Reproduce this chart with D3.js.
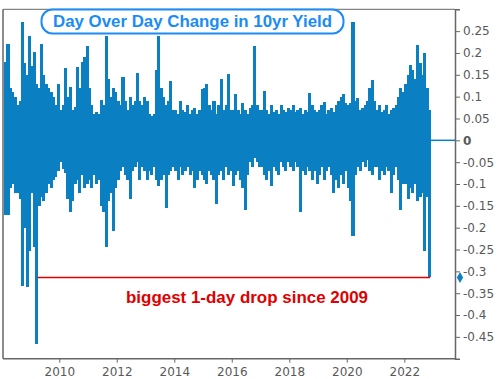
<!DOCTYPE html>
<html>
<head>
<meta charset="utf-8">
<script src="https://cdn.jsdelivr.net/npm/d3@7"></script>
<style>
  html, body { margin: 0; padding: 0; background: #fff; }
  svg { display: block; }
</style>
</head>
<body>
<svg id="chart" width="501" height="379"></svg>
<script>
(function() {

  // monthly extremes of the day-over-day change, Jan 2008 .. Nov 2022
  var startMonth = new Date(2008, 0, 1);

  var monthlyHigh = [
    0.10, 0.18, 0.22, 0.12, 0.11, 0.10, 0.08, 0.09, 0.27, 0.177, 0.15, 0.24,     // 2008
    0.17, 0.203, 0.13, 0.12, 0.22, 0.15, 0.13, 0.12, 0.11, 0.10, 0.08, 0.13,     // 2009
    0.07, 0.08, 0.165, 0.10, 0.123, 0.07, 0.077, 0.169, 0.12, 0.18, 0.19, 0.216, // 2010
    0.12, 0.08, 0.06, 0.065, 0.06, 0.093, 0.08, 0.24, 0.14, 0.10, 0.12, 0.11,    // 2011
    0.09, 0.08, 0.146, 0.09, 0.07, 0.10, 0.08, 0.09, 0.154, 0.09, 0.08, 0.10,    // 2012
    0.09, 0.06, 0.055, 0.06, 0.16, 0.238, 0.12, 0.10, 0.08, 0.09, 0.135, 0.07,   // 2013
    0.07, 0.06, 0.09, 0.07, 0.065, 0.08, 0.06, 0.07, 0.075, 0.06, 0.07, 0.118,   // 2014
    0.12, 0.13, 0.08, 0.07, 0.09, 0.06, 0.08, 0.14, 0.07, 0.08, 0.152, 0.07,     // 2015
    0.07, 0.106, 0.07, 0.06, 0.085, 0.07, 0.06, 0.075, 0.08, 0.215, 0.08, 0.07,  // 2016
    0.07, 0.113, 0.07, 0.06, 0.08, 0.065, 0.07, 0.06, 0.08, 0.07, 0.065, 0.075,  // 2017
    0.07, 0.08, 0.065, 0.07, 0.075, 0.06, 0.07, 0.065, 0.109, 0.08, 0.07, 0.065, // 2018
    0.07, 0.08, 0.087, 0.06, 0.07, 0.075, 0.065, 0.08, 0.09, 0.10, 0.107, 0.085, // 2019
    0.08, 0.085, 0.272, 0.09, 0.098, 0.07, 0.075, 0.08, 0.09, 0.12, 0.139, 0.09, // 2020
    0.07, 0.08, 0.065, 0.07, 0.08, 0.06, 0.07, 0.075, 0.08, 0.10, 0.12, 0.11,    // 2021
    0.13, 0.15, 0.173, 0.16, 0.14, 0.218, 0.177, 0.15, 0.20, 0.12, 0.07          // 2022
  ];

  var monthlyLow = [
    -0.15, -0.17, -0.17, -0.11, -0.10, -0.12, -0.12, -0.135, -0.333, -0.20, -0.335, -0.253, // 2008
    -0.12, -0.245, -0.466, -0.15, -0.13, -0.14, -0.12, -0.10, -0.11, -0.09, -0.085, -0.07,  // 2009
    -0.05, -0.065, -0.074, -0.135, -0.163, -0.14, -0.10, -0.09, -0.12, -0.08, -0.11, -0.10, // 2010
    -0.09, -0.11, -0.08, -0.10, -0.09, -0.15, -0.165, -0.245, -0.14, -0.12, -0.208, -0.11,  // 2011
    -0.09, -0.07, -0.06, -0.08, -0.09, -0.134, -0.07, -0.06, -0.05, -0.09, -0.06, -0.07,    // 2012
    -0.09, -0.07, -0.08, -0.06, -0.09, -0.105, -0.09, -0.08, -0.156, -0.08, -0.07, -0.06,   // 2013
    -0.07, -0.09, -0.06, -0.08, -0.07, -0.06, -0.08, -0.07, -0.11, -0.09, -0.07, -0.08,     // 2014
    -0.09, -0.10, -0.07, -0.08, -0.09, -0.145, -0.08, -0.07, -0.09, -0.06, -0.08, -0.07,    // 2015
    -0.105, -0.08, -0.07, -0.09, -0.11, -0.16, -0.08, -0.05, -0.06, -0.04, -0.05, -0.06,    // 2016
    -0.06, -0.08, -0.09, -0.07, -0.105, -0.06, -0.07, -0.08, -0.05, -0.06, -0.07, -0.05,    // 2017
    -0.06, -0.07, -0.05, -0.06, -0.165, -0.07, -0.08, -0.06, -0.07, -0.09, -0.07, -0.10,    // 2018
    -0.08, -0.06, -0.09, -0.07, -0.06, -0.08, -0.12, -0.09, -0.11, -0.08, -0.10, -0.07,     // 2019
    -0.11, -0.14, -0.219, -0.08, -0.06, -0.07, -0.05, -0.06, -0.045, -0.07, -0.08, -0.06,   // 2020
    -0.06, -0.09, -0.07, -0.08, -0.06, -0.07, -0.12, -0.08, -0.06, -0.09, -0.16, -0.10,     // 2021
    -0.10, -0.135, -0.11, -0.12, -0.10, -0.14, -0.13, -0.12, -0.254, -0.13, -0.314          // 2022
  ];

  var yTicks = [0.25, 0.2, 0.15, 0.1, 0.05, 0, -0.05, -0.1, -0.15, -0.2, -0.25, -0.3, -0.35, -0.4, -0.45];
  var xTickYears = [2010, 2012, 2014, 2016, 2018, 2020, 2022];

  var titleText = 'Day Over Day Change in 10yr Yield';
  var noteText = 'biggest 1-day drop since 2009';
  var lastValue = 0;          // value of the last-value line on the right
  var markerValue = -0.314;   // value of the diamond on the axis
  var noteStart = new Date(2009, 3, 1);

  var colors = ['#0a7fc1', '#666666', '#595959', '#1b8cf5', '#e00000'];

  var svg = d3.select('#chart');

  var left = 3, right = 455, top = 9.3, bottom = 358.7;

  var x = d3.scaleTime()
    .domain([new Date(2010, 0, 1), new Date(2022, 0, 1)])
    .range([59.3, 404.3]);

  var y = d3.scaleLinear()
    .domain([-0.5, 0.3])
    .range([bottom, top]);

  var months = monthlyHigh.map(function(h, i) {
    return {
      date: d3.timeMonth.offset(startMonth, i),
      next: d3.timeMonth.offset(startMonth, i + 1),
      high: h,
      low: monthlyLow[i]
    };
  });
  var lastDate = new Date(2022, 10, 12);

  svg.append('clipPath')
    .attr('id', 'plotClip')
    .append('rect')
    .attr('x', left + 1)
    .attr('y', top)
    .attr('width', right - left - 1)
    .attr('height', bottom - top);

  // bars
  svg.append('g')
    .attr('clip-path', 'url(#plotClip)')
    .attr('shape-rendering', 'crispEdges')
    .selectAll('rect')
    .data(months)
    .enter().append('rect')
    .attr('x', function(d) { return x(d.date); })
    .attr('width', function(d) { return x(d.next) - x(d.date) + 0.6; })
    .attr('y', function(d) { return y(d.high); })
    .attr('height', function(d) { return y(d.low) - y(d.high); })
    .attr('fill', colors[0]);

  // last value line
  svg.append('line')
    .attr('x1', x(lastDate))
    .attr('x2', right)
    .attr('y1', y(lastValue))
    .attr('y2', y(lastValue))
    .attr('stroke', colors[0])
    .attr('stroke-width', 1.5);

  // frame
  svg.append('line')
    .attr('x1', left).attr('x2', left)
    .attr('y1', top).attr('y2', bottom)
    .attr('stroke', colors[1]).attr('stroke-width', 1.5);
  svg.append('line')
    .attr('x1', left).attr('x2', right)
    .attr('y1', top).attr('y2', top)
    .attr('stroke', colors[1]).attr('stroke-width', 1);

  // y axis on the right
  var yAxis = svg.append('g')
    .attr('transform', 'translate(' + right + ',0)')
    .call(d3.axisRight(y)
      .tickValues(yTicks)
      .tickSize(5)
      .tickPadding(3)
      .tickFormat(function(d) { return d === 0 ? '0' : String(+d.toFixed(2)); }));
  yAxis.select('.domain').attr('stroke', colors[1]).attr('stroke-width', 1.5);
  yAxis.selectAll('.tick line').attr('stroke', colors[1]);
  yAxis.selectAll('.tick text')
    .attr('fill', colors[2])
    .style('font-family', 'DejaVu Sans, Verdana, sans-serif')
    .style('font-size', '12px')
    .style('font-weight', function(d) { return d === 0 ? 'bold' : 'normal'; });

  // x axis
  var xAxis = svg.append('g')
    .attr('transform', 'translate(0,' + bottom + ')')
    .call(d3.axisBottom(x)
      .tickValues(xTickYears.map(function(yr) { return new Date(yr, 0, 1); }))
      .tickSize(4)
      .tickPadding(5)
      .tickFormat(d3.timeFormat('%Y')));
  xAxis.select('.domain')
    .attr('d', 'M' + left + ',0H' + right)
    .attr('stroke', colors[1]).attr('stroke-width', 1.5);
  xAxis.selectAll('.tick line').attr('stroke', colors[1]);
  xAxis.selectAll('.tick text')
    .attr('fill', colors[2])
    .style('font-family', 'DejaVu Sans, Verdana, sans-serif')
    .style('font-size', '12px');

  // marker on the axis
  svg.append('path')
    .attr('d', d3.symbol().type(d3.symbolDiamond).size(34))
    .attr('transform', 'translate(460,' + y(markerValue) + ')')
    .attr('fill', colors[0]);

  // annotation
  svg.append('line')
    .attr('x1', x(noteStart))
    .attr('x2', x(lastDate) + 1)
    .attr('y1', y(markerValue))
    .attr('y2', y(markerValue))
    .attr('stroke', colors[4])
    .attr('stroke-width', 1.5);

  svg.append('text')
    .attr('x', 126)
    .attr('y', 303)
    .attr('textLength', 242)
    .attr('lengthAdjust', 'spacingAndGlyphs')
    .attr('fill', colors[4])
    .style('font-family', 'Liberation Sans, Arial, sans-serif')
    .style('font-weight', 'bold')
    .style('font-size', '16.5px')
    .text(noteText);

  // title box
  svg.append('rect')
    .attr('x', 41.5)
    .attr('y', 9.5)
    .attr('width', 302)
    .attr('height', 24)
    .attr('rx', 11)
    .attr('fill', '#fff')
    .attr('stroke', colors[3])
    .attr('stroke-width', 2);

  svg.append('text')
    .attr('x', 53)
    .attr('y', 27)
    .attr('textLength', 279)
    .attr('lengthAdjust', 'spacingAndGlyphs')
    .attr('fill', colors[3])
    .style('font-family', 'Liberation Sans, Arial, sans-serif')
    .style('font-weight', 'bold')
    .style('font-size', '16.5px')
    .text(titleText);

})();
</script>
</body>
</html>
